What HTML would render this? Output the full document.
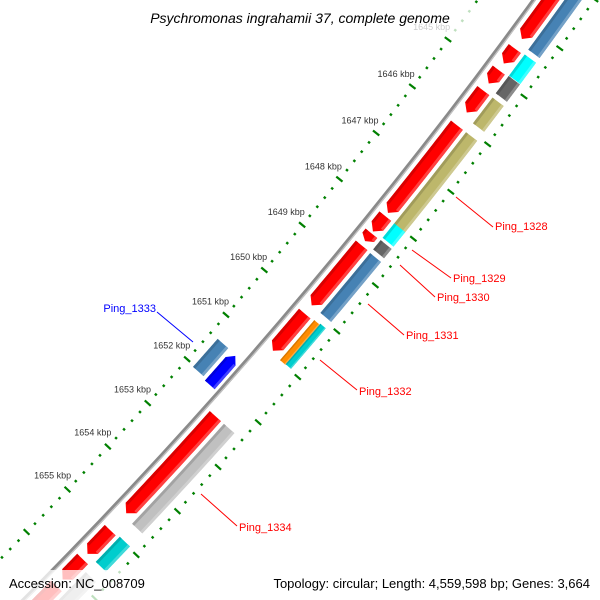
<!DOCTYPE html>
<html><head><meta charset="utf-8"><style>
html,body{margin:0;padding:0;background:#fff;overflow:hidden;}
svg{display:block;font-family:"Liberation Sans",sans-serif;overflow:hidden;}
</style></head><body>
<svg id="map" width="600" height="600" viewBox="0 0 600 600" xmlns="http://www.w3.org/2000/svg">
<g id="rings"></g>
<g id="ticks"></g>
<g id="labels"></g>
<g id="overlays"></g>
</svg>
<script>
// ---- data (kbp) ----
const fwdStarts = [1640,1644.45,1644.90,1645.33,1646.06,1648.0,1648.37,1648.63,1650.12,1652.40,1655.0,1655.67,1656.3];
const fwdEnds   = [1644.25,1644.76,1645.18,1645.79,1647.93,1648.33,1648.54,1649.94,1650.94,1654.61,1655.55,1656.15,1657.4];
const cogStarts = [1640,1644.43,1644.88,1645.33,1646.06,1648.0,1648.36,1648.64,1652.40,1654.97,1655.79];
const cogEnds   = [1644.33,1644.87,1645.24,1645.87,1648.03,1648.31,1648.56,1649.94,1654.67,1655.55,1657.4];
const cogColors = ['#4682b4','#00ffff','#666666','#bdb76b','#bdb76b','#00ffff','#666666','#4682b4','#c0c0c0','#00cdcd','#c0c0c0'];
const splitStarts = [1650.10,1650.08];
const splitEnds   = [1650.98,1650.97];
const splitColors = ['#ff8c00','#00cdcd'];
const revStarts = [1651.42];
const revEnds   = [1652.07];
const revCogStarts = [1651.40];
const revCogEnds   = [1652.03];
const revCogColors = ['#4682b4'];
const tickLabels = [1645,1646,1647,1648,1649,1650,1651,1652,1653,1654,1655];

// ---- geometry ----
const CX=-3586, CY=-2986;
function ang(k){return (37.54+0.670*(k-1646))*Math.PI/180;}
function pt(k,r){const a=ang(k);return [CX+r*Math.cos(a),CY+r*Math.sin(a)];}
const NS='http://www.w3.org/2000/svg';
function mk(tag,attrs,parent){const e=document.createElementNS(NS,tag);for(const k in attrs)e.setAttribute(k,attrs[k]);parent.appendChild(e);return e;}
function arcPts(k1,k2,r){const n=24,p=[];for(let i=0;i<=n;i++)p.push(pt(k1+(k2-k1)*i/n,r));return p;}
function toD(p){return 'M'+p.map(q=>q[0].toFixed(2)+','+q[1].toFixed(2)).join('L')+'Z';}
function bandPath(k1,k2,r1,r2){return toD(arcPts(k1,k2,r1).concat(arcPts(k1,k2,r2).reverse()));}
function tipLen(k1,k2){return Math.min(0.12,(k2-k1)*0.5);}
function arrowPath(k1,k2,r1,r2,dir){
  const tip=tipLen(k1,k2);const rm=(r1+r2)/2;let p;
  if(dir>0){p=arcPts(k1,k2-tip,r1).concat([pt(k2,rm)]).concat(arcPts(k1,k2-tip,r2).reverse());}
  else{p=[pt(k1,rm)].concat(arcPts(k1+tip,k2,r1)).concat(arcPts(k1+tip,k2,r2).reverse());}
  return toD(p);
}
function shade(c,f){const n=parseInt(c.slice(1),16);let r=n>>16,g=(n>>8)&255,b=n&255;
  if(f<0){r=Math.round(r*(1+f));g=Math.round(g*(1+f));b=Math.round(b*(1+f));}
  else{r=Math.round(r+(255-r)*f);g=Math.round(g+(255-g)*f);b=Math.round(b+(255-b)*f);}
  return 'rgb('+r+','+g+','+b+')';}

const rings=document.getElementById('rings');
const bb=mk('path',{d:'M'+arcPts(1640,1658,5088).map(q=>q[0].toFixed(2)+','+q[1].toFixed(2)).join('L'),fill:'none',stroke:'#8a8a8a','stroke-width':4},rings);


const bb2=mk('path',{d:'M'+arcPts(1640,1658,5089.3).map(q=>q[0].toFixed(2)+','+q[1].toFixed(2)).join('L'),fill:'none',stroke:'#c4c4c4','stroke-width':1.2},rings);



function drawFeature(k1,k2,r1,r2,color,dir,name){
  const g=mk('g',{},rings);
  
  
  const d=dir===0?bandPath(k1,k2,r1,r2):arrowPath(k1,k2,r1,r2,dir);
  mk('path',{d:d,fill:color},g);
  const w=(r2-r1);
  let a=k1,b=k2;
  if(dir>0)b=k2-tipLen(k1,k2);
  if(dir<0)a=k1+tipLen(k1,k2);
  mk('path',{d:bandPath(a,b,r1,r1+w*0.2),fill:shade(color,-0.15)},g);
  mk('path',{d:bandPath(a,b,r2-w*0.2,r2),fill:shade(color,0.25)},g);
}
for(let i=0;i<fwdStarts.length;i++)drawFeature(fwdStarts[i],fwdEnds[i],5094,5109,'#ff0000',1,'forward-cds-'+(i+1));
for(let i=0;i<cogStarts.length;i++)drawFeature(cogStarts[i],cogEnds[i],5113,5127,cogColors[i],0,'forward-cog-'+(i+1));
drawFeature(splitStarts[0],splitEnds[0],5113,5120,splitColors[0],0,'forward-cog-split-orange');
drawFeature(splitStarts[1],splitEnds[1],5120,5127,splitColors[1],0,'forward-cog-split-cyan');
for(let i=0;i<revStarts.length;i++)drawFeature(revStarts[i],revEnds[i],5070,5083,'#0000ff',-1,'reverse-cds-'+(i+1));
for(let i=0;i<revCogStarts.length;i++)drawFeature(revCogStarts[i],revCogEnds[i],5052,5066,revCogColors[i],0,'reverse-cog-'+(i+1));

const ticks=document.getElementById('ticks');
for(let s=16400;s<=16574;s+=2){
  const k=s/10, major=(s%10===0);
  const a1=major?[5038.5,5046.5]:[5041.5,5044];
  const b1=major?[5133.5,5141.5]:[5136,5138.5];
  [a1,b1].forEach((rr,j)=>{
    const p=pt(k,rr[0]),q=pt(k,rr[1]);
    const t=mk('line',{x1:p[0],y1:p[1],x2:q[0],y2:q[1],stroke:'#008000','stroke-width':major?2.2:2.4},ticks);
    
    
  });
}
tickLabels.forEach(k=>{
  const p=pt(k,5022);
  const t=mk('text',{x:p[0],y:p[1]+3,'text-anchor':'middle','font-size':'9',fill:'#333'},ticks);
  t.textContent=k+' kbp';
  
  
});

const labels=document.getElementById('labels');
const labelNames=['Ping_1328','Ping_1329','Ping_1330','Ping_1331','Ping_1332','Ping_1334','Ping_1333'];
const labelColors=['#f00','#f00','#f00','#f00','#f00','#f00','#00f'];
const labelLine=[[456,197,493,227],[412,250,451,278],[400,265,435,297],[368,304,404,335],[320,360,357,390],[201,494,237,526],[157,312,193,342]];
const labelText=[[495,230,'start'],[453,282,'start'],[437,301,'start'],[406,339,'start'],[359,395,'start'],[239,531,'start'],[156,312,'end']];
labelNames.forEach((n,i)=>{
  const l=labelLine[i];
  const ln=mk('line',{x1:l[0],y1:l[1],x2:l[2],y2:l[3],stroke:labelColors[i],'stroke-width':1},labels);
  
  
  const tp=labelText[i];
  const t=mk('text',{x:tp[0],y:tp[1],'text-anchor':tp[2],'font-size':'11',fill:labelColors[i]},labels);
  t.textContent=n;
  
  
});

const ov=document.getElementById('overlays');
function box(x,y,w,h,name){const r=mk('rect',{x:x,y:y,width:w,height:h,rx:4,fill:'#fff','fill-opacity':0.75},ov);
  
  }
box(128,2,346,34,'title-backdrop');
box(3,570,147,30,'accession-backdrop');
box(255,570,342,30,'topology-backdrop');
const tt=mk('text',{x:300,y:23,'text-anchor':'middle','font-size':'14','font-style':'italic',fill:'#000'},ov);
tt.textContent='Psychromonas ingrahamii 37, complete genome';


const ac=mk('text',{x:9,y:588,'font-size':'13',fill:'#000'},ov);
ac.textContent='Accession: NC_008709';


const tp=mk('text',{x:590,y:588,'text-anchor':'end','font-size':'13',fill:'#000'},ov);
tp.textContent='Topology: circular; Length: 4,559,598 bp; Genes: 3,664';


</script>
</body></html>
